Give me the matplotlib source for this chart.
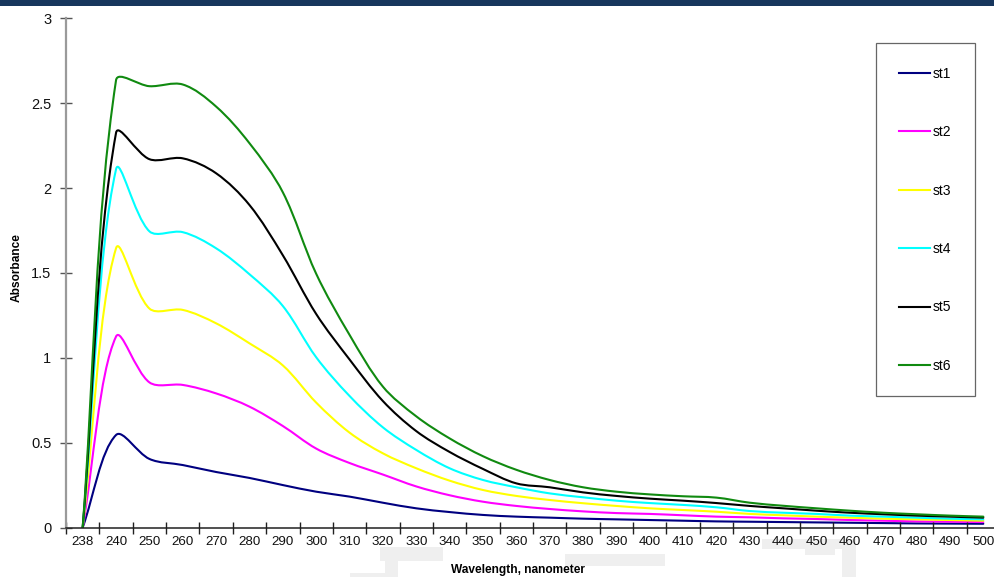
import numpy as np
import matplotlib
matplotlib.use("Agg")
import matplotlib.pyplot as plt
from matplotlib.path import Path
from matplotlib.patches import PathPatch, Rectangle
from matplotlib.lines import Line2D

plt.rcParams['font.family'] = ['Liberation Sans', 'DejaVu Sans']

wavelengths = [238, 240, 250, 260, 270, 280, 290, 300, 310, 320, 330, 340, 350, 360,
               370, 380, 390, 400, 410, 420, 430, 440, 450, 460, 470, 480, 490, 500]
series_names = ["st1", "st2", "st3", "st4", "st5", "st6"]
st1 = [0, 0.545, 0.404, 0.368, 0.327, 0.292, 0.25, 0.211, 0.182, 0.146, 0.113, 0.091, 0.074, 0.064,
       0.058, 0.052, 0.048, 0.044, 0.040, 0.036, 0.034, 0.032, 0.030, 0.028, 0.026, 0.024, 0.023, 0.022]
st2 = [0, 1.125, 0.855, 0.84, 0.79, 0.712, 0.598, 0.465, 0.38, 0.312, 0.242, 0.19, 0.152, 0.127,
       0.109, 0.095, 0.085, 0.08, 0.072, 0.064, 0.06, 0.054, 0.05, 0.044, 0.04, 0.036, 0.034, 0.032]
st3 = [0, 1.645, 1.29, 1.282, 1.203, 1.085, 0.955, 0.736, 0.559, 0.437, 0.349, 0.276, 0.221, 0.186,
       0.162, 0.143, 0.127, 0.113, 0.103, 0.093, 0.08, 0.072, 0.064, 0.058, 0.052, 0.048, 0.044, 0.04]
st4 = [0, 2.11, 1.745, 1.74, 1.645, 1.492, 1.305, 1.003, 0.775, 0.59, 0.457, 0.349, 0.28, 0.237,
       0.201, 0.178, 0.158, 0.144, 0.133, 0.119, 0.097, 0.087, 0.08, 0.07, 0.064, 0.058, 0.052, 0.048]
st5 = [0, 2.325, 2.17, 2.175, 2.087, 1.90, 1.604, 1.258, 0.99, 0.745, 0.568, 0.445, 0.345, 0.26,
       0.237, 0.207, 0.186, 0.17, 0.158, 0.144, 0.127, 0.113, 0.099, 0.087, 0.078, 0.07, 0.064, 0.058]
st6 = [0, 2.635, 2.60, 2.61, 2.48, 2.264, 1.975, 1.495, 1.135, 0.83, 0.655, 0.525, 0.42, 0.34,
       0.28, 0.237, 0.211, 0.195, 0.184, 0.176, 0.146, 0.128, 0.113, 0.099, 0.087, 0.078, 0.07, 0.064]
colors = ["#000080", "#ff00ff", "#ffff00", "#00ffff", "#000000", "#108a10"]
y_ticks = [0, 0.5, 1, 1.5, 2, 2.5, 3]
y_labels = ["0", "0.5", "1", "1.5", "2", "2.5", "3"]

W, H = 994, 577
fig = plt.figure(figsize=(W / 100, H / 100), dpi=100)
ax_left, ax_right, ax_top, ax_bot = 66, 1000, 18.3, 527.5
ax = fig.add_axes([ax_left / W, 1 - ax_bot / H, (ax_right - ax_left) / W, (ax_bot - ax_top) / H])

ncat = len(wavelengths)
ax.set_xlim(-0.5, ncat - 0.5)
ax.set_ylim(0, 3)
sx = (ax_right - ax_left) / ncat
sy = (ax_bot - ax_top) / 3.0


def smooth_path(xs, ys):
    P = np.column_stack([xs, ys]).astype(float)
    S = np.array([sx, sy])
    n = len(P)
    verts = [P[0]]
    codes = [Path.MOVETO]
    for i in range(n - 1):
        p0 = P[i - 1] if i > 0 else P[i]
        p1, p2 = P[i], P[i + 1]
        p3 = P[i + 2] if i + 2 < n else P[i + 1]
        d01 = np.linalg.norm((p1 - p0) * S)
        d12 = np.linalg.norm((p2 - p1) * S)
        d23 = np.linalg.norm((p3 - p2) * S)
        f1 = d12 / (d01 + d12) if d01 + d12 > 0 else 0
        f2 = d12 / (d12 + d23) if d12 + d23 > 0 else 0
        c1 = p1 + (p2 - p0) * f1 / 3
        c2 = p2 - (p3 - p1) * f2 / 3
        verts += [c1, c2, p2]
        codes += [Path.CURVE4] * 3
    return Path(verts, codes)


# faint grey background shapes visible in the reference (behind everything)
for (x0, y0, w, h) in [(380, 547, 63, 14), (385, 561, 13, 16), (350, 573, 35, 4),
                       (565, 554, 100, 12), (762, 539, 94, 10), (842, 549, 14, 28),
                       (805, 545, 30, 10)]:
    fig.add_artist(Rectangle((x0 / W, 1 - (y0 + h) / H), w / W, h / H,
                             transform=fig.transFigure, facecolor='#efefef',
                             edgecolor='none', zorder=-5))

xpos = np.arange(ncat)
handles = []
for name, vals, c in zip(series_names, [st1, st2, st3, st4, st5, st6], colors):
    patch = PathPatch(smooth_path(xpos, vals), facecolor='none', edgecolor=c, lw=1.5,
                      capstyle='round', joinstyle='round')
    ax.add_patch(patch)
    handles.append(Line2D([], [], color=c, lw=1.5, label=name))

ax.patch.set_alpha(0)
for s in ['top', 'right']:
    ax.spines[s].set_visible(False)
ax.spines['left'].set_color('#9a9a9a')
ax.spines['left'].set_linewidth(1.6)
ax.spines['bottom'].set_color('#202020')
ax.spines['bottom'].set_linewidth(1.1)

ax.set_yticks(y_ticks)
ax.set_yticklabels(y_labels)
ax.tick_params(axis='y', direction='inout', length=8, width=1, color='#555555',
               labelsize=10.5, pad=6.5, labelcolor='#111111')

ax.set_xticks(xpos)
ax.set_xticklabels([str(w) for w in wavelengths])
ax.set_xticks(np.arange(-0.5, ncat, 1), minor=True)
ax.tick_params(axis='x', which='major', length=0, labelsize=9.6, pad=6.0, labelcolor='#111111')
ax.tick_params(axis='x', which='minor', direction='inout', length=8, width=1, color='#202020')

fig.text(517.5 / W, 1 - 576 / H, "Wavelength, nanometer", ha='center', va='bottom',
         fontsize=8.6, fontweight='bold')
fig.text(17 / W, 1 - 268 / H, "Absorbance", ha='center', va='center', rotation=90,
         fontsize=8.6, fontweight='bold')

leg = ax.legend(handles=handles, loc='upper left', bbox_to_anchor=(876 / W, 1 - 43.3 / H),
                bbox_transform=fig.transFigure, borderaxespad=0, fontsize=10,
                labelspacing=3.2, handlelength=2.2, handletextpad=0.2, borderpad=1.68,
                fancybox=False, framealpha=1, edgecolor='#666666')
leg.get_frame().set_linewidth(0.9)

fig.add_artist(Rectangle((0, 1 - 6 / H), 1, 6 / H, transform=fig.transFigure,
                         facecolor='#17365d', edgecolor='none'))

fig.savefig("out.png", dpi=100)
